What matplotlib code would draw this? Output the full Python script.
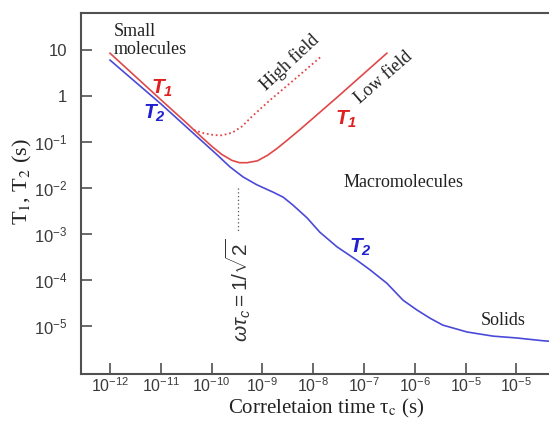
import matplotlib
matplotlib.use('Agg')
import matplotlib.pyplot as plt
import numpy as np

# values, as log10 exponents
t1_low_logtau = [-12.0, -11.0, -10.5, -10.2, -10.0, -9.8, -9.6, -9.45, -9.3, -9.1, -8.9, -8.7, -8.5, -8.25, -7.5, -6.55]
t1_low_logT = [0.93, -0.08, -0.58, -0.89, -1.09, -1.27, -1.40, -1.45, -1.45, -1.41, -1.29, -1.13, -0.95, -0.72, 0.0, 0.93]

t1_high_logtau = [-10.35, -10.15, -9.95, -9.8, -9.6, -9.4, -9.2, -9.0, -8.85, -8.4, -7.83]
t1_high_logT = [-0.74, -0.81, -0.85, -0.855, -0.80, -0.66, -0.44, -0.24, -0.09, 0.33, 0.87]

t2_logtau = [-12.0, -11.0, -10.0, -9.89, -9.64, -9.38, -9.11, -8.79, -8.59, -8.40, -8.12, -7.87,
             -7.53, -7.14, -6.88, -6.55, -6.23, -5.96, -5.70, -5.45, -4.97, -4.46, -3.99, -3.48, -3.36]
t2_logT = [0.78, -0.17, -1.17, -1.28, -1.54, -1.76, -1.93, -2.09, -2.20, -2.37, -2.65, -2.96,
           -3.28, -3.57, -3.78, -4.07, -4.44, -4.65, -4.83, -4.98, -5.13, -5.22, -5.26, -5.32, -5.33]

wtc_logtau = -9.48
wtc_span = [-2.0, -2.96]

xtick_exp = [-12, -11, -10, -9, -8, -7, -6, -5, -4]
xtick_labels = ['10$^{-12}$', '10$^{-11}$', '10$^{-10}$', '10$^{-9}$', '10$^{-8}$',
                '10$^{-7}$', '10$^{-6}$', '10$^{-5}$', '10$^{-5}$']
ytick_exp = [1, 0, -1, -2, -3, -4, -5]
ytick_labels = ['10', '1', '10$^{-1}$', '10$^{-2}$', '10$^{-3}$', '10$^{-4}$', '10$^{-5}$']

plt.rcParams['font.family'] = ['Liberation Sans', 'DejaVu Sans']
plt.rcParams['mathtext.fontset'] = 'custom'
plt.rcParams['mathtext.rm'] = 'Liberation Sans'
plt.rcParams['mathtext.it'] = 'Liberation Sans:italic'
plt.rcParams['mathtext.bf'] = 'Liberation Sans:bold:italic'

red = '#e04848'
blue = '#4a4ad8'
edge = '#505050'
serif = ['Liberation Serif', 'DejaVu Serif']

fig = plt.figure(figsize=(5.49, 4.21), dpi=100)
ax = fig.add_axes([81 / 549, 47 / 421, 468 / 549, 361 / 421])
ax.set_xscale('log')
ax.set_yscale('log')

ax.plot(10 ** np.array(t1_low_logtau), 10 ** np.array(t1_low_logT), color=red, lw=1.2)
ax.plot(10 ** np.array(t1_high_logtau), 10 ** np.array(t1_high_logT), color=red, lw=1.3, ls=(0, (1, 1.5)))
ax.plot(10 ** np.array(t2_logtau), 10 ** np.array(t2_logT), color=blue, lw=1.2)
ax.plot([10 ** wtc_logtau] * 2, 10 ** np.array(wtc_span), color='#555555', lw=0.9, ls=(0, (1, 2)))

ax.set_xlim(10 ** -12.571, 10 ** -3.358)
ax.set_ylim(10 ** -6.043, 10 ** 1.804)
ax.set_xticks([10.0 ** e for e in xtick_exp])
ax.set_xticklabels(xtick_labels)
ax.set_yticks([10.0 ** e for e in ytick_exp])
ax.set_yticklabels(ytick_labels)
ax.minorticks_off()
ax.tick_params(which='major', direction='in', length=8, width=1.2, color=edge,
               labelsize=12, labelcolor='#3a3a3a')
ax.tick_params(axis='x', pad=2, labelsize=11.5)
ax.tick_params(axis='y', pad=10)

for s in ['left', 'bottom', 'top']:
    ax.spines[s].set_color(edge)
    ax.spines[s].set_linewidth(1.5)
ax.spines['right'].set_visible(False)

txt = dict(family=serif, fontsize=13, color='#222222')
ax.text(10 ** -11.92, 10 ** 1.58, 'Small\nmolecules', ha='left', va='top', linespacing=1.05, **txt)
ax.text(10 ** -6.23, 10 ** -1.89, 'Macromolecules', ha='center', va='center', **txt)
ax.text(10 ** -4.26, 10 ** -4.87, 'Solids', ha='center', va='center', **txt)
ax.text(10 ** -8.46, 10 ** 0.74, 'High field', ha='center', va='center', rotation=43, **txt)
ax.text(10 ** -6.61, 10 ** 0.41, 'Low field', ha='center', va='center', rotation=41, **txt)

ax.text(10 ** -10.98, 10 ** 0.17, r'$\mathbf{T_1}$', color='#e02020', fontsize=15, ha='center', va='center')
ax.text(10 ** -7.35, 10 ** -0.5, r'$\mathbf{T_1}$', color='#e02020', fontsize=15, ha='center', va='center')
ax.text(10 ** -11.13, 10 ** -0.37, r'$\mathbf{T_2}$', color='#2020d0', fontsize=15, ha='center', va='center')
ax.text(10 ** -7.06, 10 ** -3.28, r'$\mathbf{T_2}$', color='#2020d0', fontsize=15, ha='center', va='center')

ax.text(10 ** wtc_logtau, 10 ** -4.22, r'$\omega\tau_c = 1/\sqrt{2}$', rotation=90,
        ha='center', va='center', fontsize=15, color='#333333')

fig.text(326 / 549, 1 - 408 / 421, 'Correletaion time τ$_\\mathrm{c}$ (s)', ha='center', va='center',
         family=serif, fontsize=15, color='#222222', math_fontfamily='stix')
fig.text(22 / 549, 1 - 182 / 421, 'T$_1$, T$_2$ (s)', ha='center', va='center', rotation=90,
         family=serif, fontsize=16, color='#222222', math_fontfamily='stix')

fig.savefig('out.png', dpi=100)
